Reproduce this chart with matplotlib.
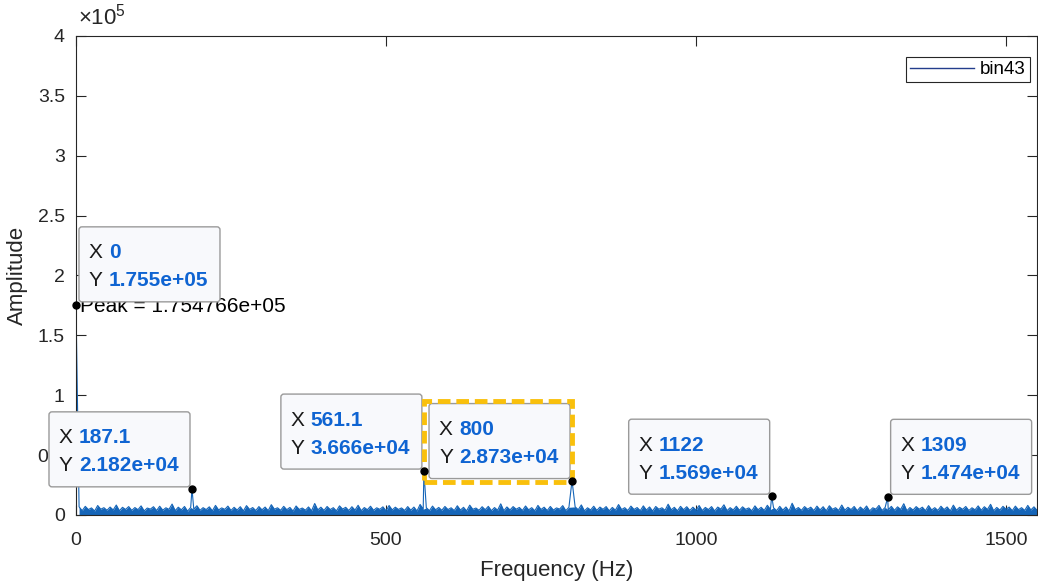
import numpy as np
import matplotlib
matplotlib.use("Agg")
import matplotlib.pyplot as plt
import matplotlib.transforms as mtransforms
from matplotlib.lines import Line2D
from matplotlib.patches import FancyBboxPatch, Rectangle
from matplotlib.ticker import FuncFormatter, MultipleLocator

plt.rcParams["font.family"] = ["Liberation Sans", "DejaVu Sans"]
plt.rcParams["mathtext.fontset"] = "custom"
plt.rcParams["mathtext.rm"] = "Liberation Sans"

# ── data ─────────────────────────────────────────────────────────────────────
NOISE_STEP_HZ = 5.0
# noise floor of the spectrum, in thousands
NOISE_KAMP = [
    4.1, 6.8, 3.6, 7.2, 4.5, 5.9, 3.3, 7.9, 4.8, 6.1, 3.9, 6.6, 4.2, 8.3, 3.5, 6.4, 4.6, 7.0, 3.8, 6.2,
    4.4, 7.6, 3.4, 5.8, 4.9, 6.9, 3.7, 7.3, 4.0, 6.0, 4.7, 9.1, 3.6, 6.5, 4.3, 7.1, 3.2, 6.3, 4.8, 7.7,
    3.9, 6.1, 4.5, 6.8, 3.5, 8.0, 4.2, 5.9, 4.7, 7.4, 3.8, 6.4, 4.1, 6.9, 3.4, 7.8, 4.6, 6.2, 3.7, 7.0,
    4.3, 6.6, 3.6, 8.6, 4.8, 6.0, 3.9, 7.2, 4.4, 6.3, 3.3, 7.5, 4.6, 5.8, 4.0, 6.7, 3.5, 9.6, 4.2, 6.5,
    3.8, 7.1, 4.5, 6.1, 3.4, 7.6, 4.9, 6.4, 3.7, 6.9, 4.1, 8.1, 3.6, 6.2, 4.4, 7.3, 3.9, 6.0, 4.7, 6.8,
    3.5, 7.9, 4.2, 6.5, 4.6, 5.9, 3.8, 7.0, 4.0, 6.6, 3.3, 8.8, 4.8, 6.1, 3.6, 7.4, 4.3, 6.3, 3.9, 7.1,
    4.5, 6.0, 3.7, 7.7, 4.1, 6.4, 3.4, 8.2, 4.7, 5.8, 3.9, 6.9, 4.4, 7.2, 3.6, 6.2, 4.0, 9.3, 3.5, 6.7,
    4.2, 7.0, 4.8, 6.3, 3.8, 7.5, 4.3, 6.1, 3.5, 8.0, 4.6, 6.5, 3.7, 7.1, 4.1, 5.9, 4.9, 7.8, 3.6, 6.4,
    3.9, 6.8, 4.4, 8.4, 3.4, 6.0, 4.2, 7.3, 3.8, 6.6, 4.7, 7.0, 3.5, 6.3, 4.0, 8.7, 4.5, 6.1, 3.7, 7.4,
    4.6, 6.2, 3.6, 7.6, 4.1, 6.7, 3.3, 7.1, 4.8, 6.0, 3.9, 9.0, 4.3, 6.4, 3.5, 7.2, 4.4, 6.9, 3.8, 6.5,
    4.0, 7.9, 3.7, 6.3, 4.5, 7.0, 3.4, 6.6, 4.9, 8.5, 3.6, 6.1, 4.2, 7.3, 3.9, 6.8, 4.7, 5.9, 3.5, 7.6,
    4.3, 6.4, 3.8, 8.1, 4.6, 6.0, 3.6, 7.2, 4.1, 6.7, 3.3, 9.8, 4.4, 6.2, 3.9, 7.0, 4.8, 6.5, 3.7, 7.4,
    4.2, 6.9, 3.5, 7.7, 4.7, 6.1, 3.8, 8.3, 4.0, 6.4, 4.5, 7.1, 3.6, 6.6, 4.3, 7.5, 3.4, 6.0, 4.9, 8.0,
    3.7, 6.3, 4.4, 7.2, 3.9, 6.8, 4.6, 9.4, 3.5, 6.2, 4.1, 7.0, 4.8, 6.5, 3.6, 7.8, 4.2, 6.1, 3.8, 7.3,
    4.5, 6.7, 3.4, 8.2, 4.0, 6.4, 4.7, 7.1, 3.7, 6.0, 4.3, 7.6, 3.9, 6.9, 4.6, 8.9, 3.5, 6.3, 4.1, 7.2,
    4.8, 6.6, 3.6, 7.4, 4.4, 6.1, 3.8, 8.0, 4.2, 6.8, 3.9,
]
PEAK_HZ = [0.0, 187.1, 561.1, 800.0, 1122.0, 1309.0]
PEAK_AMP = [1.754766e5, 2.182e4, 3.666e4, 2.873e4, 1.569e4, 1.474e4]
SERIES_NAME = "bin43"

# which side of the point each data tip box sits on, and the highlighted one
TIP_SIDE = ["right", "left", "left", "left", "left", "right"]
TIP_SELECTED = 3

LINE_C = "#1565b8"
TIP_BLUE = "#0f64d2"
AX_C = "#262626"

# ── spectrum ─────────────────────────────────────────────────────────────────
noise_hz = np.arange(len(NOISE_KAMP)) * NOISE_STEP_HZ
noise_amp = np.array(NOISE_KAMP) * 1e3
keep = ~np.isin(noise_hz, PEAK_HZ)
freq = np.concatenate([noise_hz[keep], PEAK_HZ])
amp = np.concatenate([noise_amp[keep], PEAK_AMP])
order = np.argsort(freq, kind="stable")
freq, amp = freq[order], amp[order]

fig = plt.figure(figsize=(10.38, 5.86), dpi=100)
ax = fig.add_axes([0.0732, 0.1212, 0.9259, 0.8174])

# dense floor: shade under the noise bins, then the full trace on top
ax.fill_between(noise_hz[keep], 0, noise_amp[keep], color=LINE_C, lw=0, zorder=1.9)
ax.plot(freq, amp, color=LINE_C, lw=0.8, zorder=2)

ax.set_xlim(0, 1550)
ax.set_ylim(0, 4e5)
ax.xaxis.set_major_locator(MultipleLocator(500))
ax.yaxis.set_major_locator(MultipleLocator(0.5e5))
ax.yaxis.set_major_formatter(FuncFormatter(lambda v, p: f"{v / 1e5:g}"))
ax.tick_params(direction="in", length=7, width=0.8, top=True, right=True,
               labelsize=14, colors=AX_C)
ax.tick_params(axis="x", pad=12)
ax.tick_params(axis="y", pad=8)
for sp in ax.spines.values():
    sp.set_color(AX_C)
    sp.set_linewidth(0.8)

ax.set_xlabel("Frequency (Hz)", fontsize=16, color=AX_C, labelpad=8)
ax.set_ylabel("Amplitude", fontsize=16, color=AX_C, labelpad=7)

ax.text(0.002, 1.0, r"$\times10^{5}$",
        transform=ax.transAxes + mtransforms.ScaledTranslation(0, 6 / 100, fig.dpi_scale_trans),
        ha="left", va="bottom", fontsize=16, color=AX_C)

leg = ax.legend(handles=[Line2D([], [], color="#233d8c", lw=1.0)], labels=[SERIES_NAME],
                loc="upper right", bbox_to_anchor=(0.9927, 0.956), borderaxespad=0,
                fancybox=False, edgecolor=AX_C, framealpha=1, fontsize=13.5,
                handlelength=3.4, handletextpad=0.35, borderpad=0.22)
leg.get_frame().set_linewidth(0.8)


# ── data tips ────────────────────────────────────────────────────────────────
def anchored(x, y, dx=0.0, dy=0.0):
    # pixel offsets measured from a data point
    return mtransforms.Affine2D().translate(dx, dy) + mtransforms.ScaledTranslation(x, y, ax.transData)


BOX_W, BOX_H = 141, 75
for i, (x, y) in enumerate(zip(PEAK_HZ, PEAK_AMP)):
    bx, by = (3, 3) if TIP_SIDE[i] == "right" else (-143, 2)
    box = FancyBboxPatch((bx, by), BOX_W, BOX_H, boxstyle="round,pad=0,rounding_size=3",
                         fc="#f8f9fc", ec="#9a9a9a", lw=1.0,
                         transform=anchored(x, y), clip_on=False, zorder=6)
    ax.add_patch(box)
    if i == TIP_SELECTED:
        ax.add_patch(Rectangle((bx - 5, by - 3), BOX_W + 7, BOX_H + 6, fill=False,
                               ec="#f9c00c", lw=3.5, ls=(0, (2.6, 1.2)),
                               transform=anchored(x, y), clip_on=False, zorder=6.5))
    for line_y, key, val in ((by + BOX_H - 26, "X", f"{x:.4g}"),
                             (by + BOX_H - 54, "Y", f"{y:.3e}")):
        ax.text(0, 0, key, transform=anchored(x, y, bx + 10, line_y), ha="left", va="center",
                fontsize=15, color="#1a1a1a", zorder=7, clip_on=False)
        ax.text(0, 0, val, transform=anchored(x, y, bx + 30, line_y), ha="left", va="center",
                fontsize=15, fontweight="bold", color=TIP_BLUE, zorder=7, clip_on=False)

ax.text(0, 0, f"Peak = {PEAK_AMP[0]:.6e}", transform=anchored(PEAK_HZ[0], PEAK_AMP[0], 4, -2),
        ha="left", va="center", fontsize=15, color="black", zorder=5, clip_on=False)

ax.plot(PEAK_HZ, PEAK_AMP, "o", color="black", ms=5, zorder=9, clip_on=False)

fig.savefig("out.png", dpi=100)
